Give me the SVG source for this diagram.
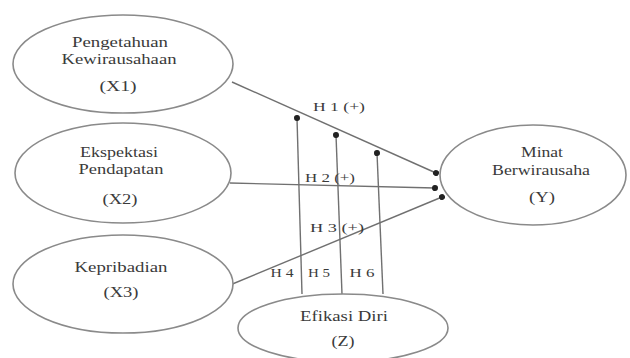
<svg xmlns="http://www.w3.org/2000/svg" width="630" height="358" viewBox="0 0 630 358">
<style>
.node ellipse{fill:#fff;stroke:#8a8a8a;stroke-width:1.6}
.t{font-family:"Liberation Serif","Times New Roman",serif;font-size:14px;fill:#3a3a3a;text-anchor:middle}
.lbl{font-family:"Liberation Serif","Times New Roman",serif;font-size:12px;fill:#3a3a3a;text-anchor:middle}
.edge{stroke:#707070;stroke-width:1.4;fill:none}
</style>
<defs>
<marker id="dot" viewBox="0 0 10 10" refX="5" refY="5" markerWidth="6" markerHeight="6" markerUnits="userSpaceOnUse" orient="auto">
<circle cx="5" cy="5" r="5" fill="#222"/>
</marker>
</defs>
<rect width="630" height="358" fill="#fff"/>
<g id="connectors">
<line class="edge" x1="232" y1="82" x2="436" y2="173" marker-end="url(#dot)"/>
<line class="edge" x1="230" y1="183" x2="435" y2="188" marker-end="url(#dot)"/>
<line class="edge" x1="230" y1="285" x2="442" y2="197" marker-end="url(#dot)"/>
<line class="edge" x1="302" y1="294" x2="297" y2="118" marker-end="url(#dot)"/>
<line class="edge" x1="342" y1="294" x2="336" y2="135" marker-end="url(#dot)"/>
<line class="edge" x1="383" y1="294" x2="377" y2="153" marker-end="url(#dot)"/>
<text class="lbl" x="339" y="111" textLength="52" lengthAdjust="spacingAndGlyphs">H 1 (+)</text>
<text class="lbl" x="330" y="182" textLength="50" lengthAdjust="spacingAndGlyphs">H 2 (+)</text>
<text class="lbl" x="337" y="232" textLength="54" lengthAdjust="spacingAndGlyphs">H 3 (+)</text>
<text class="lbl" x="282" y="277" textLength="23" lengthAdjust="spacingAndGlyphs">H 4</text>
<text class="lbl" x="319" y="277" textLength="22" lengthAdjust="spacingAndGlyphs">H 5</text>
<text class="lbl" x="362" y="277" textLength="25" lengthAdjust="spacingAndGlyphs">H 6</text>
</g>
<g id="X1" class="node">
<ellipse cx="123" cy="64" rx="110" ry="49"/>
<text class="t" x="120" y="47" textLength="96" lengthAdjust="spacingAndGlyphs">Pengetahuan</text>
<text class="t" x="119" y="64" textLength="115" lengthAdjust="spacingAndGlyphs">Kewirausahaan</text>
<text class="t" x="118" y="91" textLength="37" lengthAdjust="spacingAndGlyphs">(X1)</text>
</g>
<g id="X2" class="node">
<ellipse cx="123" cy="173" rx="108" ry="50"/>
<text class="t" x="119" y="157" textLength="78" lengthAdjust="spacingAndGlyphs">Ekspektasi</text>
<text class="t" x="121" y="174" textLength="85" lengthAdjust="spacingAndGlyphs">Pendapatan</text>
<text class="t" x="120" y="204" textLength="35" lengthAdjust="spacingAndGlyphs">(X2)</text>
</g>
<g id="X3" class="node">
<ellipse cx="123" cy="284" rx="110" ry="49"/>
<text class="t" x="121" y="272" textLength="93" lengthAdjust="spacingAndGlyphs">Kepribadian</text>
<text class="t" x="121" y="297" textLength="35" lengthAdjust="spacingAndGlyphs">(X3)</text>
</g>
<g id="Y" class="node">
<ellipse cx="533" cy="175" rx="93" ry="50"/>
<text class="t" x="542" y="157" textLength="42" lengthAdjust="spacingAndGlyphs">Minat</text>
<text class="t" x="541" y="175" textLength="98" lengthAdjust="spacingAndGlyphs">Berwirausaha</text>
<text class="t" x="542" y="202" textLength="26" lengthAdjust="spacingAndGlyphs">(Y)</text>
</g>
<g id="Z" class="node">
<ellipse cx="343" cy="328" rx="105" ry="34"/>
<text class="t" x="344" y="321" textLength="88" lengthAdjust="spacingAndGlyphs">Efikasi Diri</text>
<text class="t" x="343" y="346" textLength="23" lengthAdjust="spacingAndGlyphs">(Z)</text>
</g>
</svg>
